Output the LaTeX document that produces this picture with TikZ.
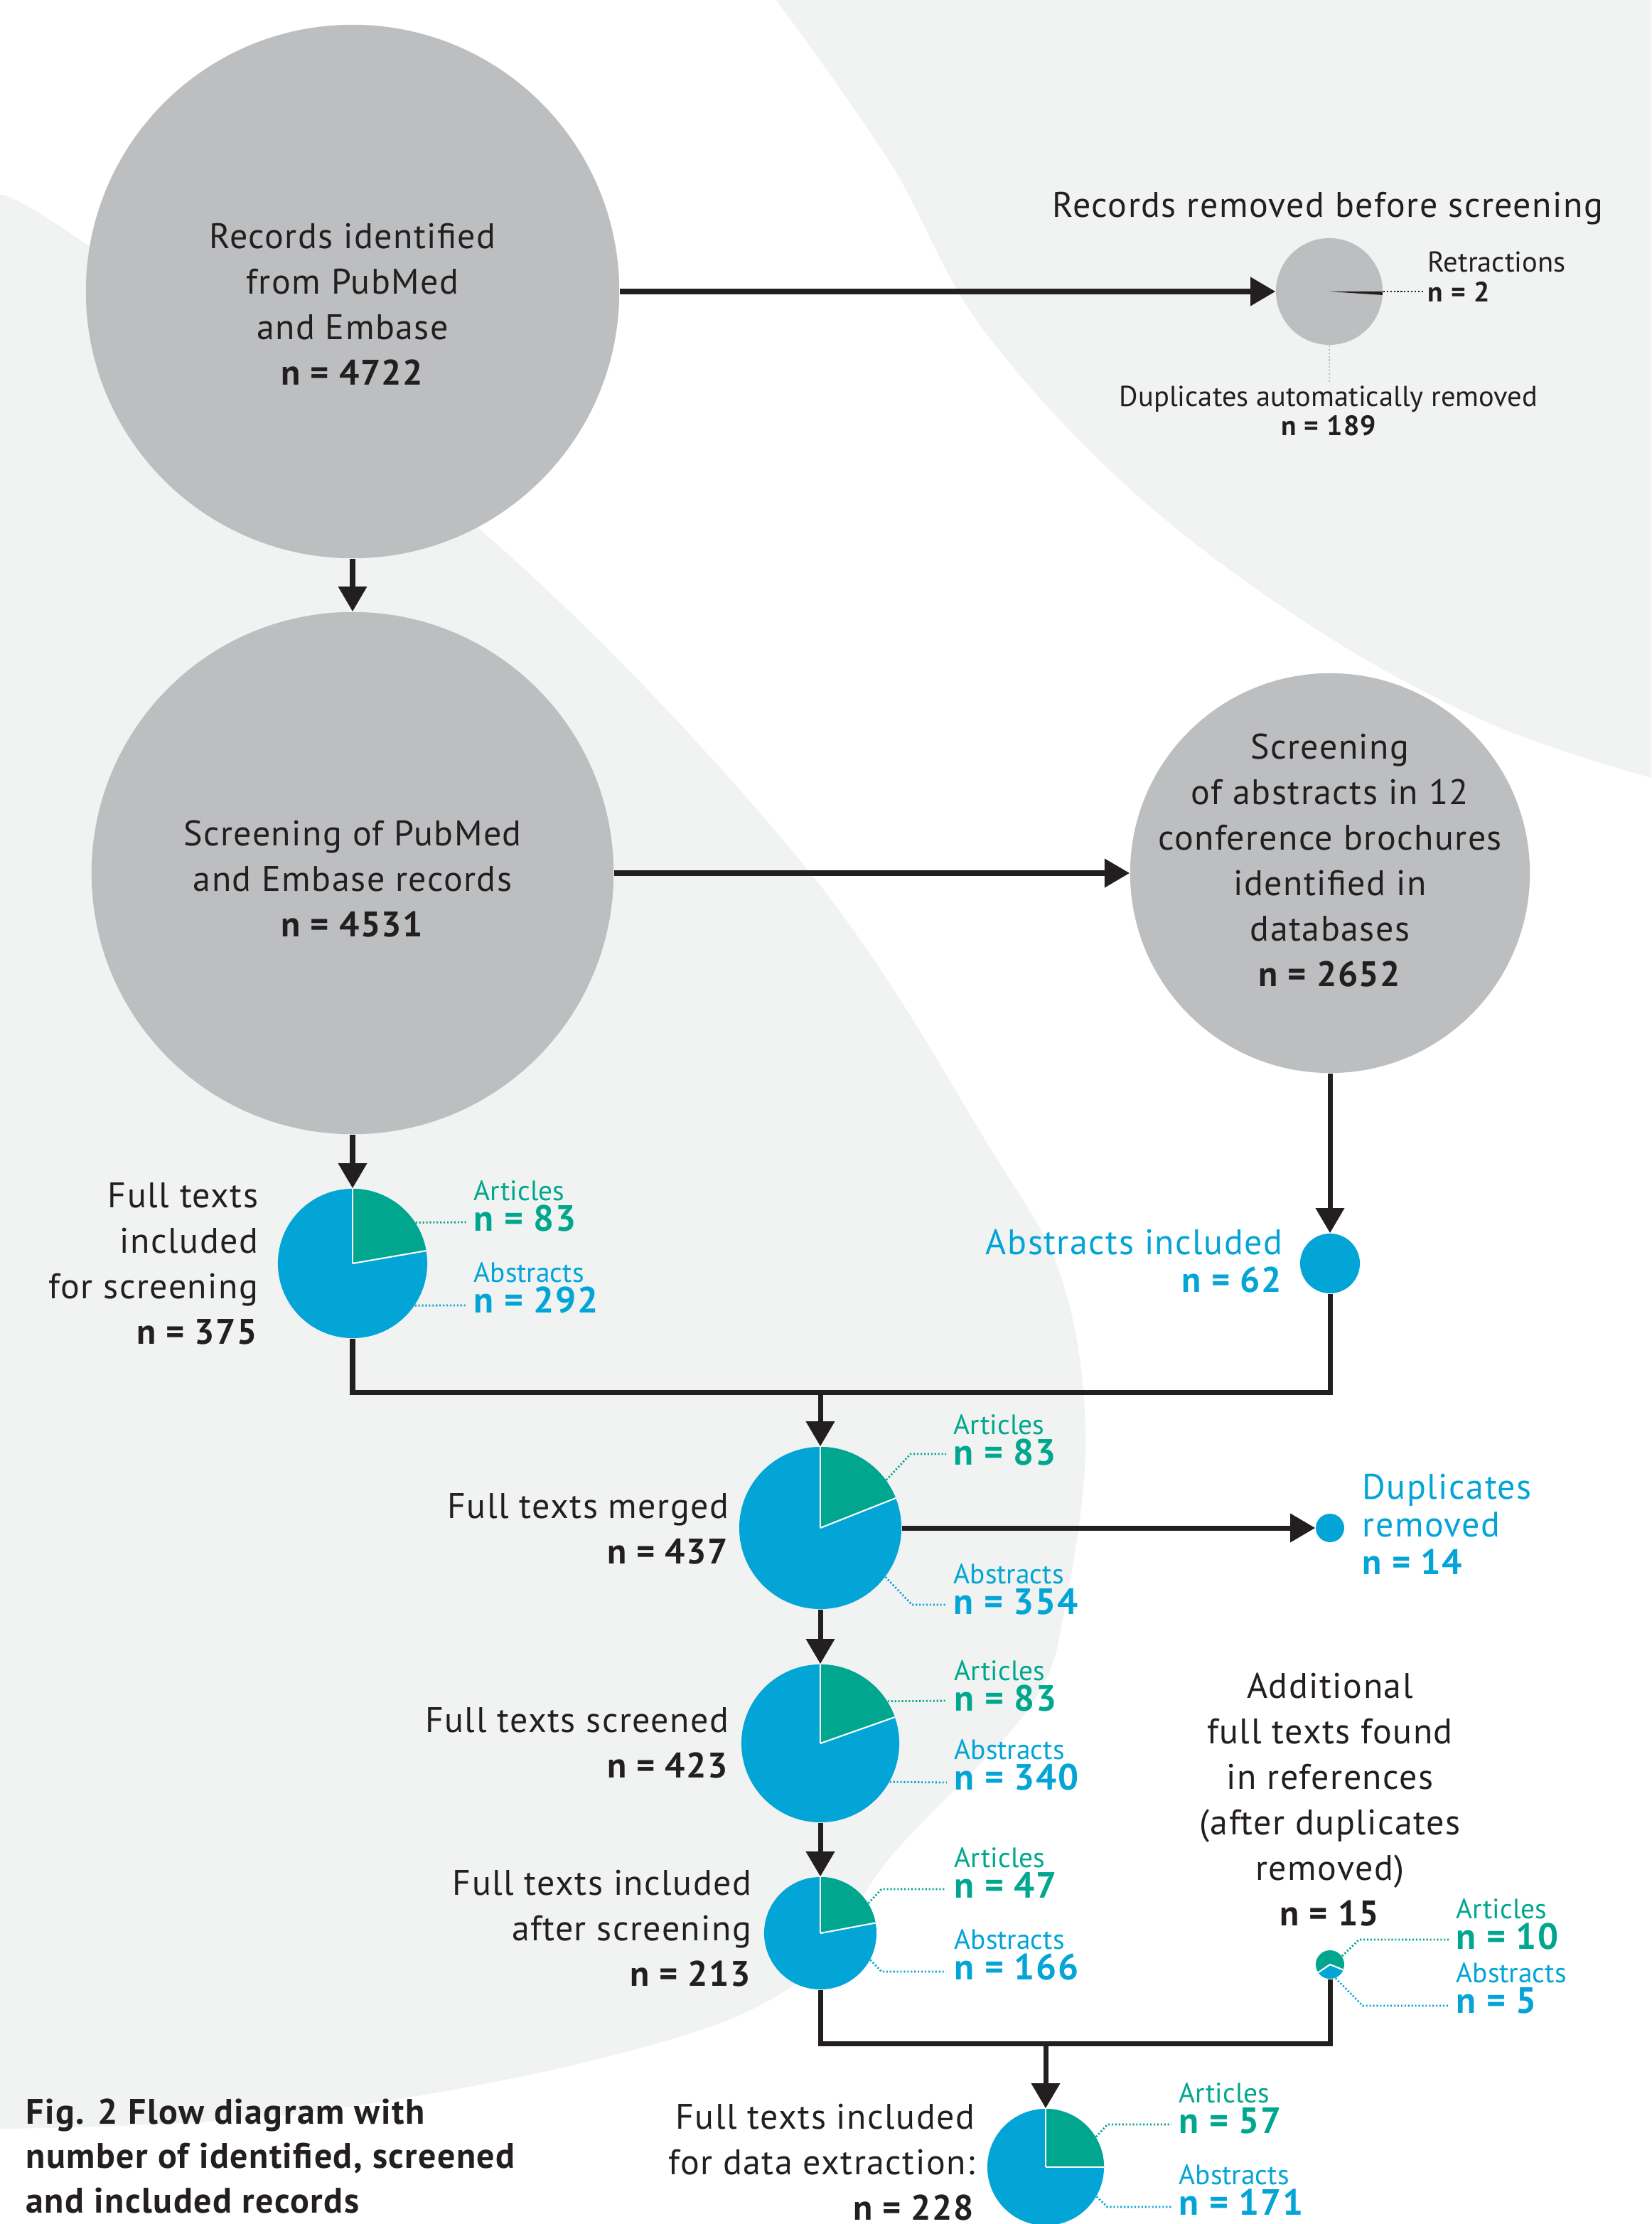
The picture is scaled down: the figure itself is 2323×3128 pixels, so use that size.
\documentclass[tikz,border=0pt]{standalone}
\usepackage{fontspec}
\setmainfont{PT Sans}[LetterSpace=3]
\newfontfamily\plainfont{PT Sans}
\usetikzlibrary{arrows.meta}
\definecolor{cgray}{HTML}{BCBEC0}
\definecolor{cbg}{HTML}{F1F2F2}
\definecolor{cdark}{HTML}{231F20}
\definecolor{cblue}{HTML}{03A4D6}
\definecolor{cgreen}{HTML}{00A78E}
\newcommand\ml[2]{\begin{tabular}[t]{@{}#1@{}}#2\end{tabular}}
% pie label: name, x, y(baseline of title), colour, title, number
\newcommand\plab[6]{%
  \node[smtitle, text=#4, anchor=base west] (#1t) at (#2,#3) {#5};
  \node[smnum, text=#4, anchor=base west] (#1n) at (#2,#3+43) {#6};}
% pie wedge: node, radius, start, end, colour
\newcommand\pwedge[5]{%
  \fill[#5] (#1.center) -- +(#3:#2) arc[start angle=#3, end angle=#4, radius=#2] -- cycle;
  \draw[sep] (#1.center) -- +(#3:#2);
  \draw[sep] (#1.center) -- +(#4:#2);}
\begin{document}
\begin{tikzpicture}[x=0.01cm,y=-0.01cm,
  bigc/.style={circle, fill=cgray, inner sep=0pt},
  pie/.style={circle, fill=cblue, inner sep=0pt},
  arr/.style={draw=cdark, line width=2pt, -{Triangle[width=11.1pt,length=10pt]}},
  link/.style={draw=cdark, line width=2pt, line join=miter},
  sep/.style={draw=white, line width=0.6pt},
  dotbase/.style={line width=0.8pt, dash pattern=on 0.6pt off 0.8pt},
  dotgreen/.style={dotbase, draw=cgreen},
  dotblue/.style={dotbase, draw=cblue},
  dotdark/.style={dotbase, draw=cdark, line width=0.6pt},
  dotgray/.style={dotbase, draw=cgray, line width=0.6pt},
  maintxt/.style={inner sep=0pt, text=cdark, font=\fontsize{14.2}{18.2}\selectfont},
  bluetxt/.style={inner sep=0pt, text=cblue, font=\fontsize{14.2}{15.1}\selectfont},
  captxt/.style={inner sep=0pt, text=cdark, font=\fontsize{14.2}{17.9}\selectfont\bfseries},
  smtitle/.style={inner sep=0pt, font=\plainfont\fontsize{11.2}{12}\selectfont},
  smnum/.style={inner sep=0pt, font=\fontsize{14.6}{15}\selectfont\bfseries},
  smnumb/.style={inner sep=0pt, text=cdark, font=\fontsize{11.2}{12}\selectfont\bfseries},
  smtitleb/.style={inner sep=0pt, text=cdark, font=\plainfont\fontsize{11.5}{12}\selectfont}]
\useasboundingbox (0,0) rectangle (2323,3128);
\clip (0,0) rectangle (2323,3128);
\fill[white] (0,0) rectangle (2323,3128);
% background shapes
\fill[cbg] plot[smooth, tension=0.6] coordinates {(1092,0) (1253,230) (1380,459) (1591,689) (1844,880) (2097,1018) (2323,1094)} -- (2323,0) -- cycle;
\fill[cbg] plot[smooth, tension=0.6] coordinates {(0,274) (122,344) (672,742) (1127,1212) (1395,1618) (1494,1800) (1527,2020) (1500,2250) (1449,2400) (1255,2609) (1112,2795) (837,2897) (400,2975) (0,2994)} -- cycle;

% big grey circles
\node[bigc, minimum size=7.5cm] (c1) at (496,410) {};
\node[bigc, minimum size=7.34cm] (c2) at (496,1228) {};
\node[bigc, minimum size=5.62cm] (c3) at (1871,1228) {};
\node[bigc, minimum size=1.5cm] (rm) at (1870,410) {};
\fill[cdark] (rm.center) -- +(0:75) arc[start angle=0, end angle=3.8, radius=75] -- cycle;

% pies
\node[pie, minimum size=2.1cm] (p1) at (496,1777) {};
\pwedge{p1}{105}{-90}{-9.8}{cgreen}
\node[pie, minimum size=0.84cm] (ab) at (1871,1777) {};
\node[pie, minimum size=2.28cm] (pm) at (1154,2149) {};
\pwedge{pm}{114}{-90}{-21.6}{cgreen}
\node[pie, minimum size=0.4cm] (dup) at (1871,2149) {};
\node[pie, minimum size=2.22cm] (ps) at (1154,2452) {};
\pwedge{ps}{111}{-90}{-19.4}{cgreen}
\node[pie, minimum size=1.58cm] (pa) at (1154,2719) {};
\pwedge{pa}{79}{-90}{-10.6}{cgreen}
\node[circle, fill=cgreen, inner sep=0pt, minimum size=0.4cm] (pr) at (1871,2763) {};
\pwedge{pr}{20}{22}{146}{cblue}
\node[pie, minimum size=1.64cm] (pf) at (1471,3048) {};
\pwedge{pf}{82}{-90}{0}{cgreen}

% connectors
\draw[arr] (c1) -- (rm);
\draw[arr] (c1) -- (c2);
\draw[arr] (c2) -- (c3);
\draw[arr] (c2) -- (p1);
\draw[arr] (c3) -- (ab);
\coordinate (m1) at (496,1958);
\coordinate (m2) at (1154,1958);
\draw[link] (p1.south) -- (m1) -| (ab.south);
\draw[arr] (m2) -- (pm.north);
\draw[arr] (pm) -- (dup);
\draw[arr] (pm) -- (ps);
\draw[arr] (ps) -- (pa);
\coordinate (m3) at (1154,2874);
\coordinate (m4) at (1471,2874);
\draw[link] (pa.south) -- (m3) -| (pr.south);
\draw[arr] (m4) -- (pf.north);

% texts in circles
\node[maintxt, anchor=base] (t1) at (496,350) {\ml{c}{Records identified\\from PubMed\\and Embase\\\textbf{n = 4722}}};
\node[maintxt, anchor=base] (t2) at (496,1189) {\ml{c}{Screening of PubMed\\and Embase records\\\textbf{n = 4531}}};
\node[maintxt, anchor=base] (t3) at (1871,1067) {\ml{c}{Screening\\of abstracts in 12\\conference brochures\\identified in\\databases\\\textbf{n = 2652}}};

% records removed
\node[maintxt, anchor=base] (trm) at (1868,306) {Records removed before screening};
\node[smtitleb, anchor=base west] (tret) at (2008,383) {Retractions};
\node[smnumb, anchor=base west] (tretn) at (2008,425) {n = 2};
\node[smtitleb, anchor=base] (tdup) at (1869,572) {Duplicates automatically removed};
\node[smnumb, anchor=base] (tdupn) at (1869,613) {n = 189};
\coordinate (retend) at (2003,410);
\coordinate (dupend) at (1870,537);
\draw[dotdark] (rm.east) -- (retend);
\draw[dotgray] (rm.south) -- (dupend);

% side labels
\node[maintxt, anchor=base east] (tp1) at (364,1698) {\ml{r}{Full texts\\included\\for screening\\\textbf{n = 375}}};
\node[bluetxt, anchor=base east] (tab) at (1805,1764) {\ml{r}{Abstracts included\\\textbf{n = 62}}};
\node[maintxt, anchor=base east] (tpm) at (1026,2135) {\ml{r}{Full texts merged\\\textbf{n = 437}}};
\node[bluetxt, anchor=base west] (tdp) at (1916,2108) {\ml{l}{Duplicates\\removed\\\textbf{n = 14}}};
\node[maintxt, anchor=base east] (tps) at (1026,2436) {\ml{r}{Full texts screened\\\textbf{n = 423}}};
\node[maintxt, anchor=base east] (tpa) at (1058,2665) {\ml{r}{Full texts included\\after screening\\\textbf{n = 213}}};
\node[maintxt, anchor=base] (tadd) at (1871,2388) {\ml{c}{Additional\\full texts found\\in references\\(after duplicates\\removed)\\\textbf{n = 15}}};
\node[maintxt, anchor=base east] (tpf) at (1372,2994) {\ml{r}{Full texts included\\for data extraction:\\\textbf{n = 228}}};
\node[captxt, anchor=base west] (cap) at (36,2987) {\ml{l}{Fig. 2 Flow diagram with\\number of identified, screened\\and included records}};

% pie labels
\plab{p1a}{666}{1688}{cgreen}{Articles}{n = 83}
\plab{p1b}{666}{1803}{cblue}{Abstracts}{n = 292}
\plab{pma}{1341}{2017}{cgreen}{Articles}{n = 83}
\plab{pmb}{1341}{2227}{cblue}{Abstracts}{n = 354}
\plab{psa}{1342}{2363}{cgreen}{Articles}{n = 83}
\plab{psb}{1342}{2474}{cblue}{Abstracts}{n = 340}
\plab{paa}{1342}{2626}{cgreen}{Articles}{n = 47}
\plab{pab}{1342}{2741}{cblue}{Abstracts}{n = 166}
\plab{pfa}{1658}{2957}{cgreen}{Articles}{n = 57}
\plab{pfb}{1658}{3072}{cblue}{Abstracts}{n = 171}
\plab{pra}{2048}{2698}{cgreen}{Articles}{n = 10}
\plab{prb}{2048}{2788}{cblue}{Abstracts}{n = 5}

% leaders
\draw[dotgreen] (p1.33.5) -- (657,1719);
\draw[dotblue] (p1.-34.2) -- (657,1836);
\draw[dotgreen] (pm.36.6) -- (1281,2045) -- (1331,2045);
\draw[dotblue] (pm.-37.8) -- (1283,2257) -- (1331,2257);
\draw[dotgreen] (ps.32.7) -- (1332,2392);
\draw[dotblue] (ps.-29.7) -- (1332,2507);
\draw[dotgreen] (pa.32.7) -- (1240,2657) -- (1331,2657);
\draw[dotblue] (pa.-28.4) -- (1240,2773) -- (1331,2773);
\draw[dotgreen] (pf.31.5) -- (1558,2988) -- (1648,2988);
\draw[dotblue] (pf.-30.4) -- (1558,3104) -- (1648,3104);
\draw[dotgreen] (pr.35) -- (1912,2728) -- (2038,2728);
\draw[dotblue] (pr.-68) -- (1917,2821) -- (2038,2821);
\end{tikzpicture}
\end{document}
